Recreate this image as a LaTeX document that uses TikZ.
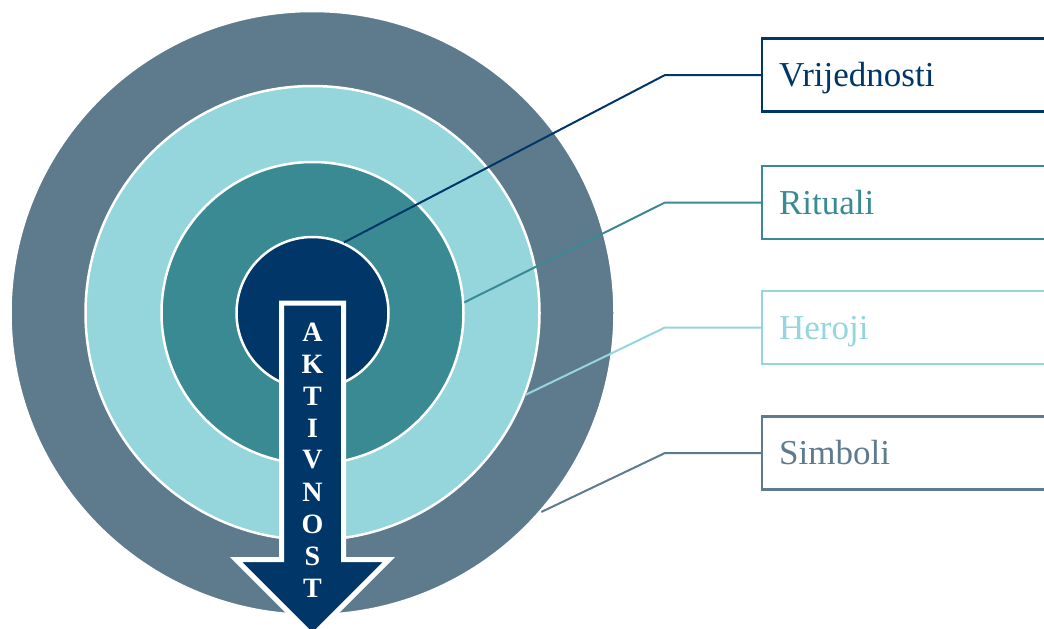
\documentclass[tikz,border=0pt]{standalone}
\usepackage{fontspec}
\setmainfont{Liberation Serif}
\usetikzlibrary{positioning}
\definecolor{slate}{RGB}{94,123,141}
\definecolor{sky}{RGB}{149,213,220}
\definecolor{teal}{RGB}{58,138,147}
\definecolor{navy}{RGB}{1,55,104}
\begin{document}
\begin{tikzpicture}[x=1pt,y=-1pt,
  ring/.style={circle,draw=white,line width=2.5pt,inner sep=0pt},
  lbox/.style={draw=#1,text=#1,line width=2.2pt,anchor=west,minimum height=73pt,text width=270pt,inner xsep=17pt,align=left,font=\fontsize{35}{40}\selectfont,text height=25pt,text depth=2pt},
  leader/.style={draw=#1,line width=2pt}]
\useasboundingbox (0,0) rectangle (1044,629);
\coordinate (O) at (312.5,313);
\node[ring,fill=slate,minimum size=604pt] (S) at (O) {};
\node[ring,fill=sky,minimum size=454pt] (H) at (O) {};
\node[ring,fill=teal,minimum size=302pt] (R) at (O) {};
\node[ring,fill=navy,minimum size=152pt] (V) at (O) {};
\filldraw[fill=navy,draw=white,line width=5pt] (281.5,303) -- (343.5,303) -- (343.5,559.5) -- (389,559.5) -- (312.5,636) -- (236,559.5) -- (281.5,559.5) -- cycle;
\foreach \l [count=\i] in {A,K,T,I,V,N,O,S,T}
  \node[text=white,font=\bfseries\fontsize{28}{28}\selectfont,inner sep=0pt] (L\i) at (312.5,300+32*\i) {\l};
\node[lbox=navy] (Vb) at (761,75) {Vrijednosti};
\node[lbox=teal] (Rb) at (761,202.5) {Rituali};
\node[lbox=sky] (Hb) at (761,327.5) {Heroji};
\node[lbox=slate] (Sb) at (761,453) {Simboli};
\draw[leader=navy] (V.66) -- ([xshift=-96pt]Vb.west) -- (Vb.west);
\draw[leader=teal] (R.4) -- ([xshift=-96pt]Rb.west) -- (Rb.west);
\draw[leader=sky] (H.-21) -- ([xshift=-96pt]Hb.west) -- (Hb.west);
\draw[leader=slate] (S.-41) -- ([xshift=-96pt]Sb.west) -- (Sb.west);
\end{tikzpicture}
\end{document}
